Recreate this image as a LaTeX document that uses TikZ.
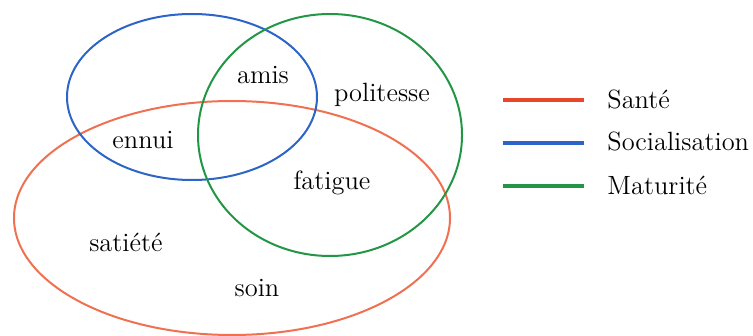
\documentclass[tikz,border=0pt]{standalone}
\usepackage{xcolor}
\usetikzlibrary{positioning}

\definecolor{santeC}{RGB}{240,112,82}
\definecolor{santeL}{RGB}{232,70,40}
\definecolor{socC}{RGB}{45,100,200}
\definecolor{matC}{RGB}{35,150,70}

\begin{document}
\begin{tikzpicture}[
        x=0.5pt, y=-0.5pt,
        word/.style={font=\fontsize{13.2}{16}\selectfont, inner sep=1pt},
        zone/.style={line width=1pt},
        key/.style={line width=2pt},
        keylab/.style={word, anchor=west}
    ]
        \useasboundingbox (0,0) rectangle (753,336);

        % the three sets
        \draw[zone, santeC] (232,218) ellipse [x radius=218, y radius=117];
        \draw[zone, socC]   (192,97)  ellipse [x radius=125, y radius=83];
        \draw[zone, matC]   (330,135) ellipse [x radius=132, y radius=121];

        % words
        \node[word] (amis)      at (263,75)  {amis};
        \node[word] (politesse) at (382,95)  {politesse};
        \node[word] (ennui)     at (143,140) {ennui};
        \node[word] (fatigue)   at (332,183) {fatigue};
        \node[word] (satiete)   at (126,242) {satiété};
        \node[word] (soin)      at (257,288) {soin};

        % legend
        \node[keylab] (sante) at (605,99)  {Santé};
        \node[keylab] (soc)   at (605,141) {Socialisation};
        \node[keylab] (mat)   at (605,185) {Maturité};
        \draw[key, santeL] (503,100) -- (584,100);
        \draw[key, socC]   (503,143) -- (584,143);
        \draw[key, matC]   (503,186) -- (584,186);
    \end{tikzpicture}
\end{document}
